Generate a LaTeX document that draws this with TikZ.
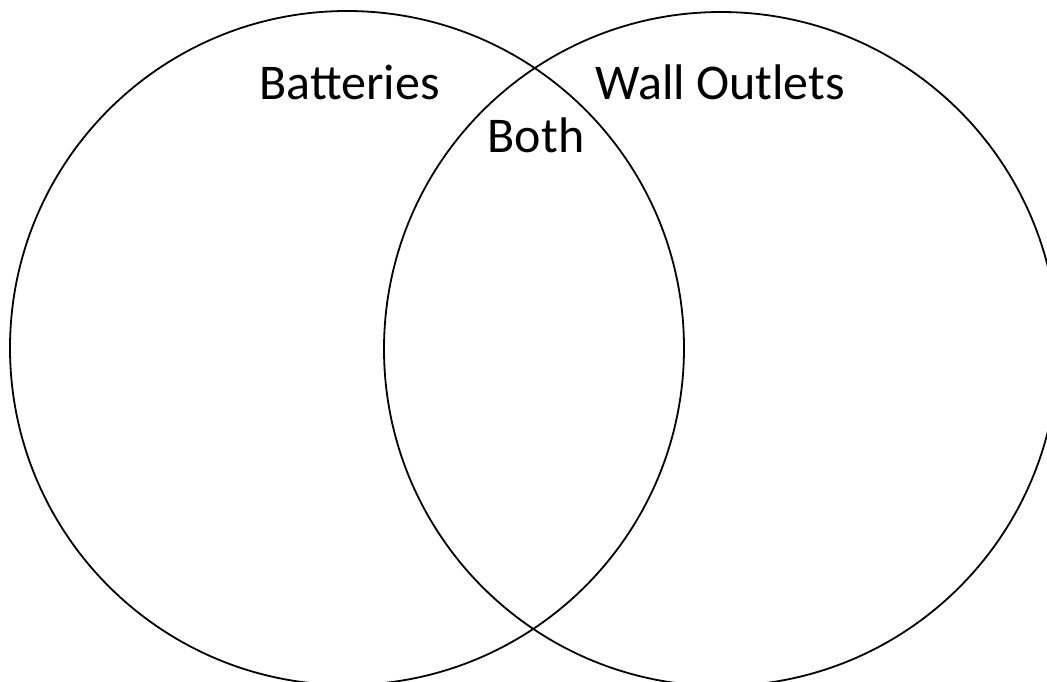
\documentclass[tikz,border=0pt]{standalone}
\usepackage{fontspec}
\setmainfont{Carlito}
\begin{document}
\begin{tikzpicture}[x=1pt,y=-1pt,
  ring/.style={draw=black,line width=1.8pt},
  lbl/.style={font=\fontsize{50}{60}\selectfont,anchor=base,inner sep=0pt}]
\useasboundingbox (0,0) rectangle (1047,681);
\begin{scope}
\clip (0,0) rectangle (1047,681);
\node[ring,circle,minimum size=674pt,inner sep=0pt] (left) at (347,348) {};
\node[ring,circle,minimum size=674pt,inner sep=0pt] (right) at (721,349) {};
\end{scope}
\node[lbl] (bat) at (349.5,99) {Batteries};
\node[lbl] (wall) at (720,99) {Wall Outlets};
\node[lbl] (both) at (536,152) {Both};
\end{tikzpicture}
\end{document}
